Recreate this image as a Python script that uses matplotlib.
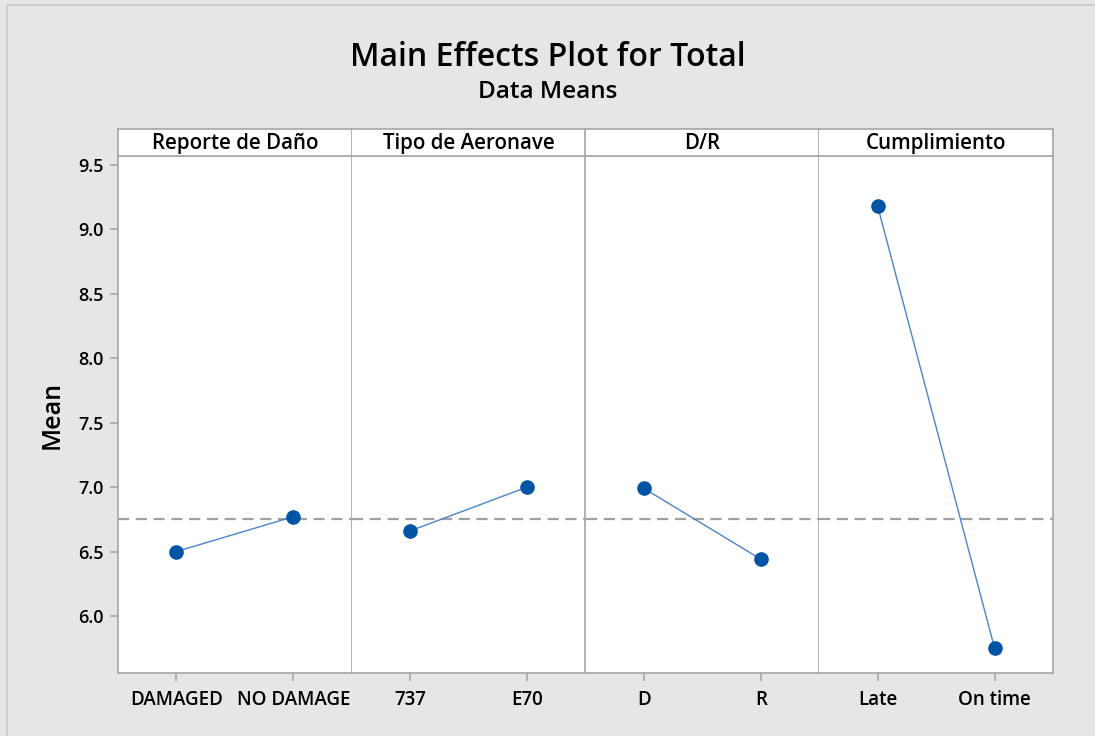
import matplotlib
matplotlib.use("Agg")
import matplotlib.pyplot as plt
from matplotlib.patches import Rectangle

factors = ["Reporte de Daño", "Tipo de Aeronave", "D/R", "Cumplimiento"]
levels = [["DAMAGED", "NO DAMAGE"], ["737", "E70"], ["D", "R"], ["Late", "On time"]]
means = [[6.50, 6.77], [6.66, 7.00], [6.99, 6.44], [9.18, 5.75]]
grand_mean = 6.75
yticks = [6.0, 6.5, 7.0, 7.5, 8.0, 8.5, 9.0, 9.5]

plt.rcParams['font.family'] = ['Open Sans', 'DejaVu Sans']
bg = '#e6e6e6'
gray = '#a6a6a6'
line_c = '#4a85c9'
mk_c = '#0054a6'

fig = plt.figure(figsize=(10.95, 7.36), dpi=100, facecolor=bg)
fig.patches.append(Rectangle((7/1095, -0.01), 1.2, (736-5)/736 + 0.01, transform=fig.transFigure,
                             fill=False, edgecolor='#c8c8c8', lw=1.2))

L, R = 118/1095, 1053/1095
B, T = (736-673)/736, (736-156)/736
ST = (736-129)/736
w = (R - L) / 4

for i in range(4):
    ax = fig.add_axes([L + i*w, B, w, T - B])
    ax.set_facecolor('white')
    x = list(range(len(levels[i])))
    ax.axhline(grand_mean, color='#a0a0a0', lw=1.6, ls=(0, (5, 3)), zorder=1)
    ax.plot(x, means[i], color=line_c, lw=1.0, zorder=2)
    ax.plot(x, means[i], 'o', color=mk_c, ms=9.5, zorder=3)
    ax.set_xlim(-0.5, 1.5)
    ax.set_ylim(5.557, 9.570)
    ax.set_xticks(x)
    ax.set_xticklabels(levels[i], fontsize=13.5, fontweight='semibold')
    for s in ax.spines.values():
        s.set_color(gray)
        s.set_linewidth(1.2)
    if i > 0:
        ax.spines['left'].set_visible(False)
    ax.tick_params(axis='x', colors=gray, labelcolor='black', length=6, width=1.2, pad=6)
    if i == 0:
        ax.set_yticks(yticks)
        ax.set_yticklabels([f"{v:.1f}" for v in yticks], fontsize=13, fontweight='semibold')
        ax.tick_params(axis='y', colors=gray, labelcolor='black', length=6, width=1.2, pad=4)
        ax.set_ylabel("Mean", fontsize=18, fontweight='semibold', labelpad=10)
    else:
        ax.set_yticks([])
    # strip
    sax = fig.add_axes([L + i*w, T, w, ST - T])
    sax.set_facecolor('white')
    sax.set_xticks([])
    sax.set_yticks([])
    for s in sax.spines.values():
        s.set_color(gray)
        s.set_linewidth(1.2)
    if i > 0:
        sax.spines['left'].set_visible(False)
    sax.text(0.5, 0.45, factors[i], ha='center', va='center', fontsize=14.8,
             fontweight='semibold', transform=sax.transAxes)

fig.text(0.5, (736-57)/736, "Main Effects Plot for Total", ha='center', va='center',
         fontsize=23, fontweight='semibold')
fig.text(0.5, (736-92)/736, "Data Means", ha='center', va='center',
         fontsize=17.5, fontweight='semibold')

fig.savefig("out.png", dpi=100, facecolor=bg)
